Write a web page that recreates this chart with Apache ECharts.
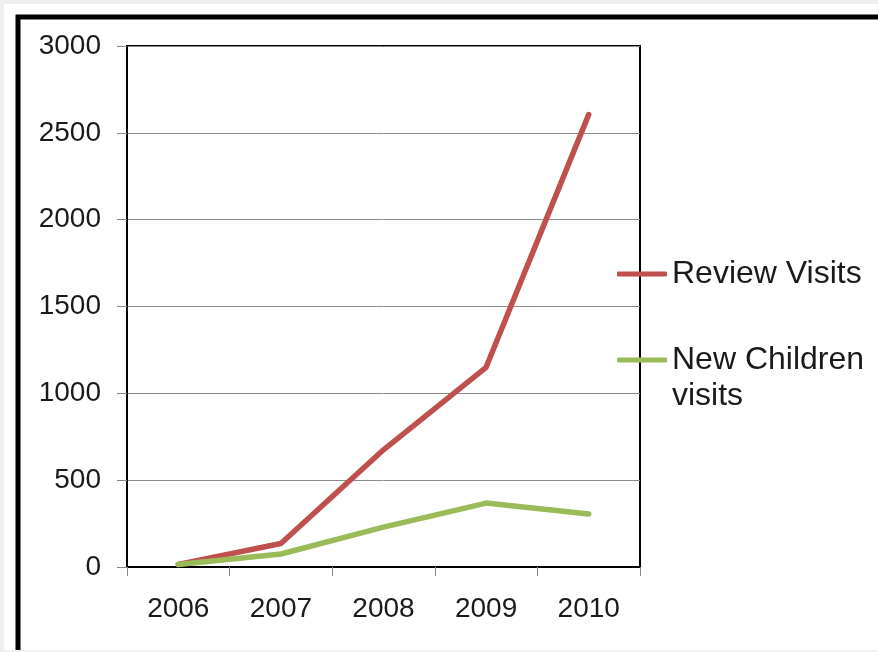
<!DOCTYPE html>
<html>
<head>
<meta charset="utf-8">
<script src="https://cdn.jsdelivr.net/npm/echarts@6/dist/echarts.min.js"></script>
<style>
html,body{margin:0;padding:0;background:#efefef;}
#chart{position:absolute;left:4px;top:4px;width:874px;height:646px;background:#fff;}
</style>
</head>
<body>
<div id="chart"></div>
<script>
const categories = ['2006', '2007', '2008', '2009', '2010'];
const reviewVisits = [15, 135, 675, 1150, 2605];
const newChildrenVisits = [15, 75, 230, 368, 305];
const yTicks = { min: 0, max: 3000, interval: 500 };
const seriesNames = ['Review Visits', 'New Children visits'];

const chart = echarts.init(document.getElementById('chart'));
const font = 'Liberation Sans, Arial, sans-serif';
chart.setOption({
  animation: false,
  graphic: [{
    type: 'rect', shape: { x: 14, y: 13, width: 900, height: 700 },
    style: { fill: 'none', stroke: '#000', lineWidth: 5 }, silent: true
  }],
  grid: { left: 123, top: 42, right: 238, bottom: 83, show: true, borderColor: '#000', borderWidth: 2, backgroundColor: 'transparent' },
  legend: [{
    data: [seriesNames[0]], left: 613, top: 253, padding: 0, selectedMode: false,
    icon: 'roundRect', itemWidth: 50, itemHeight: 5, itemGap: 0,
    textStyle: { fontFamily: font, fontSize: 32, color: '#1a1a1a', lineHeight: 34 }
  }, {
    data: [seriesNames[1]], left: 613, top: 302, padding: 0, selectedMode: false,
    icon: 'roundRect', itemWidth: 50, itemHeight: 5, itemGap: 0,
    formatter: () => '\nNew Children\nvisits',
    textStyle: { fontFamily: font, fontSize: 32, color: '#1a1a1a', lineHeight: 36 }
  }],
  xAxis: {
    type: 'category', data: categories, boundaryGap: true,
    axisLine: { lineStyle: { color: '#000', width: 2 } },
    axisTick: { show: true, length: 9, lineStyle: { color: '#888' } },
    axisLabel: { fontFamily: font, fontSize: 28, color: '#1a1a1a', margin: 28 }
  },
  yAxis: {
    type: 'value', min: yTicks.min, max: yTicks.max, interval: yTicks.interval,
    axisLine: { show: true, lineStyle: { color: '#000', width: 2 } },
    axisTick: { show: true, length: 10, lineStyle: { color: '#888' } },
    splitLine: { lineStyle: { color: '#8c8c8c', width: 1 } },
    axisLabel: { fontFamily: font, fontSize: 28, color: '#1a1a1a', margin: 26, formatter: v => String(v) }
  },
  series: [{
    name: seriesNames[0], type: 'line', data: reviewVisits, showSymbol: false,
    lineStyle: { color: '#c0504d', width: 5.5, cap: 'round', join: 'round' }, itemStyle: { color: '#c0504d' }
  }, {
    name: seriesNames[1], type: 'line', data: newChildrenVisits, showSymbol: false,
    lineStyle: { color: '#9bbb59', width: 5.5, cap: 'round', join: 'round' }, itemStyle: { color: '#9bbb59' }
  }]
});
</script>
</body>
</html>
